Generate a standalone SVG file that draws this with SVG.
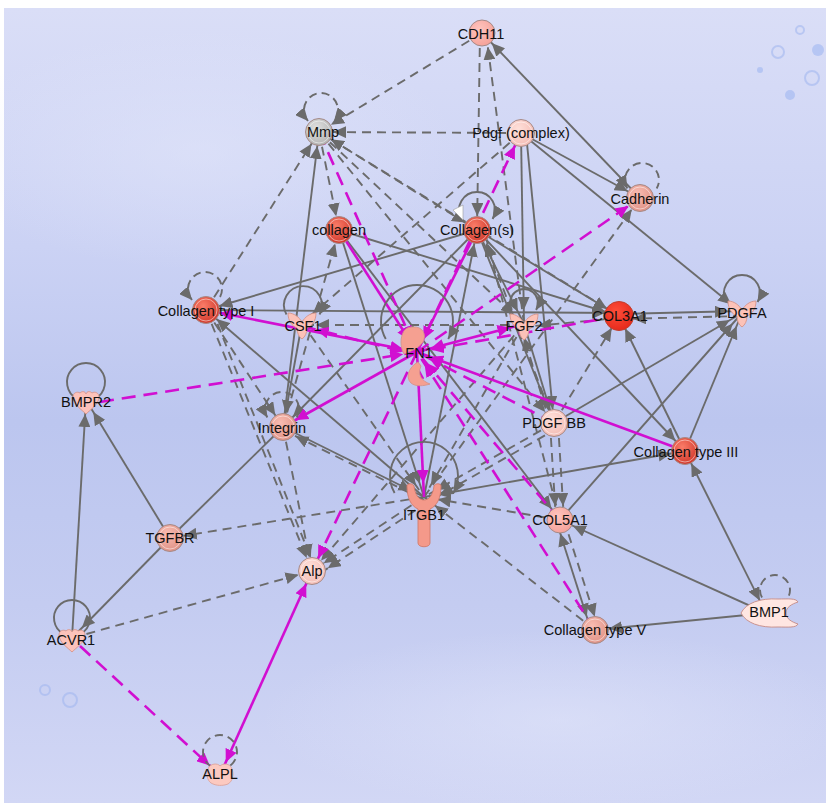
<svg xmlns="http://www.w3.org/2000/svg" width="826" height="803" viewBox="0 0 826 803">
  <defs>
    <linearGradient id="bg" x1="0" y1="0" x2="0" y2="1">
      <stop offset="0" stop-color="#dadef7"/>
      <stop offset="0.3" stop-color="#cbd2f4"/>
      <stop offset="0.52" stop-color="#bcc6ef"/>
      <stop offset="0.75" stop-color="#c4ccf1"/>
      <stop offset="1" stop-color="#d2d7f5"/>
    </linearGradient>
    <radialGradient id="haze" cx="0.5" cy="0.5" r="0.5">
      <stop offset="0" stop-color="#e2e6fa" stop-opacity="0.55"/>
      <stop offset="1" stop-color="#e2e6fa" stop-opacity="0"/>
    </radialGradient>
    <radialGradient id="gRed" cx="0.4" cy="0.35" r="0.7">
      <stop offset="0" stop-color="#fa7c68"/>
      <stop offset="1" stop-color="#cf3529"/>
    </radialGradient>
    <radialGradient id="gRed2" cx="0.4" cy="0.35" r="0.7">
      <stop offset="0" stop-color="#ff4e3a"/>
      <stop offset="1" stop-color="#e4281a"/>
    </radialGradient>
    <radialGradient id="gPink" cx="0.4" cy="0.35" r="0.7">
      <stop offset="0" stop-color="#ffc4be"/>
      <stop offset="1" stop-color="#f4a098"/>
    </radialGradient>
    <radialGradient id="gLight" cx="0.4" cy="0.35" r="0.7">
      <stop offset="0" stop-color="#ffe0da"/>
      <stop offset="1" stop-color="#f3bab2"/>
    </radialGradient>
    <radialGradient id="gSalmon" cx="0.4" cy="0.35" r="0.7">
      <stop offset="0" stop-color="#f9bcb2"/>
      <stop offset="1" stop-color="#de9084"/>
    </radialGradient>
    <radialGradient id="gGrey" cx="0.4" cy="0.35" r="0.7">
      <stop offset="0" stop-color="#e0e0e0"/>
      <stop offset="1" stop-color="#b0b0b0"/>
    </radialGradient>
    <!-- arrowheads: tip sits 14px short of the path end so it meets the node rim -->
    <marker id="ag" viewBox="0 0 27 12" refX="27" refY="6" markerWidth="27" markerHeight="12" markerUnits="userSpaceOnUse" orient="auto-start-reverse">
      <path d="M0,0 L13,6 L0,12 Z" fill="#6b6b6b"/>
    </marker>
    <marker id="am" viewBox="0 0 27 12" refX="27" refY="6" markerWidth="27" markerHeight="12" markerUnits="userSpaceOnUse" orient="auto-start-reverse">
      <path d="M0,0 L13,6 L0,12 Z" fill="#d10fd1"/>
    </marker>
    <marker id="al" viewBox="0 0 13 12" refX="13" refY="6" markerWidth="13" markerHeight="12" markerUnits="userSpaceOnUse" orient="auto-start-reverse">
      <path d="M0,0 L13,6 L0,12 Z" fill="#6b6b6b"/>
    </marker>
    <path id="cyto" d="M-14,-12 C-8,-12 -3,-8 0,-3 C3,-8 8,-12 14,-12 C14,-4 10,1 5,3 C5,8 3,12 0,14 C-3,12 -5,8 -5,3 C-10,1 -14,-4 -14,-12 Z"/>
    <path id="kinase" d="M0,12 C-4,8 -13,2 -13,-5 C-13,-9 -9,-11 -6,-9 C-4,-11 -1,-11 0,-8 C1,-11 4,-11 6,-9 C9,-11 13,-9 13,-5 C13,2 4,8 0,12 Z"/>
  </defs>
  <style>
    .g{fill:none;stroke:#6b6b6b;stroke-width:1.9;marker-end:url(#ag)}
    .g.d{stroke-dasharray:9 6}
    .g.b{marker-start:url(#ag)}
    .g.n{marker-end:none}
    .m{fill:none;stroke:#d10fd1;stroke-width:2.6;marker-end:url(#am)}
    .m.d{stroke-dasharray:14 8}
    .m.b{marker-start:url(#am)}
    .loop{fill:none;stroke:#6b6b6b;stroke-width:1.9}
    .loop.d{stroke-dasharray:8 5}
    .loop.a{marker-end:url(#al)}
    .loop.r{marker-start:url(#al)}
    .ring{stroke:#a48a88;stroke-width:1}
    .inner{fill:none;stroke:#ffffff;stroke-opacity:0.5;stroke-width:1}
    .shape{stroke:#d6948a;stroke-width:0.9}
    text{font-family:"Liberation Sans",Arial,sans-serif;font-size:14.5px;fill:#111111;text-anchor:middle}
  </style>

  <!-- backdrop -->
  <rect width="826" height="803" fill="#ffffff"/>
  <rect x="4" y="8" width="822" height="795" fill="url(#bg)"/>
  <ellipse cx="200" cy="150" rx="260" ry="120" fill="url(#haze)"/>
  <ellipse cx="560" cy="720" rx="300" ry="90" fill="url(#haze)"/>
  <g fill="none" stroke="#9fb4ee" stroke-opacity="0.55" stroke-width="2">
    <circle cx="778" cy="52" r="6"/>
    <circle cx="800" cy="30" r="4"/>
    <circle cx="812" cy="78" r="7"/>
    <circle cx="70" cy="700" r="7"/>
    <circle cx="45" cy="690" r="5"/>
  </g>
  <g fill="#8eaaf0" fill-opacity="0.45">
    <circle cx="790" cy="95" r="5"/>
    <circle cx="818" cy="50" r="6"/>
    <circle cx="760" cy="70" r="3"/>
  </g>

  <!-- connectors -->
  <g id="connectors">
    <!-- grey solid -->
    <path class="g" d="M640,198 L482,33"/>
    <path class="g" d="M521,133 L640,198"/>
    <path class="g" d="M521,133 L742,313"/>
    <path class="g" d="M521,133 L524,324"/>
    <path class="g" d="M526,133 L554,423"/>
    <path class="g" d="M283,427 L319,132"/>
    <path class="g" d="M477,230 L206,310"/>
    <path class="g" d="M339,230 L619,316"/>
    <path class="g" d="M339,230 L560,520"/>
    <path class="g" d="M339,230 L424,497"/>
    <path class="g" d="M477,230 L283,427"/>
    <path class="g" d="M477,230 L619,316"/>
    <path class="g" d="M477,230 L524,324"/>
    <path class="g" d="M477,230 L554,423"/>
    <path class="g" d="M424,497 L477,230"/>
    <path class="g" d="M477,230 L685,451"/>
    <path class="g" d="M206,310 L619,313"/>
    <path class="g" d="M424,497 L206,310"/>
    <path class="g" d="M302,323 L283,427"/>
    <path class="g" d="M619,314 L742,311"/>
    <path class="g" d="M554,423 L742,313"/>
    <path class="g" d="M560,520 L742,313"/>
    <path class="g" d="M685,451 L742,313"/>
    <path class="g" d="M685,451 L619,316"/>
    <path class="g" d="M524,324 L554,423"/>
    <path class="g b" d="M424,497 L685,451"/>
    <path class="g b" d="M766,613 L685,451"/>
    <path class="g" d="M766,613 L560,520"/>
    <path class="g" d="M766,613 L595,630"/>
    <path class="g b" d="M556,520 L591,630"/>
    <path class="g" d="M283,427 L424,497"/>
    <path class="g n" d="M283,427 L170,538"/>
    <path class="g" d="M170,538 L86,400"/>
    <path class="g" d="M72,638 L86,400"/>
    <path class="g" d="M170,538 L72,638"/>
    <!-- grey dashed -->
    <path class="g d" d="M482,33 L319,132"/>
    <path class="g d" d="M480,33 L477,230"/>
    <path class="g d" d="M524,324 L486,33"/>
    <path class="g d" d="M521,133 L319,132"/>
    <path class="g d" d="M521,133 L302,323"/>
    <path class="g d" d="M319,132 L339,230"/>
    <path class="g d" d="M319,132 L477,230"/>
    <path class="g d" d="M619,316 L319,132"/>
    <path class="g d" d="M206,310 L319,132"/>
    <path class="g d" d="M319,132 L554,423"/>
    <path class="g d" d="M319,132 L524,324"/>
    <path class="g d" d="M283,427 L339,230"/>
    <path class="g d" d="M554,423 L481,230"/>
    <path class="g d" d="M560,520 L484,230"/>
    <path class="g d" d="M206,310 L283,427"/>
    <path class="g d" d="M206,310 L312,571"/>
    <path class="g d" d="M212,310 L316,571"/>
    <path class="g d" d="M524,325 L302,325"/>
    <path class="g d" d="M302,323 L424,497"/>
    <path class="g d" d="M619,318 L524,327"/>
    <path class="g d" d="M742,316 L619,319"/>
    <path class="g d" d="M554,423 L619,316"/>
    <path class="g d" d="M550,423 L520,324"/>
    <path class="g d" d="M524,324 L424,497"/>
    <path class="g d" d="M524,324 L312,571"/>
    <path class="g d" d="M550,423 L556,520"/>
    <path class="g d" d="M558,423 L564,520"/>
    <path class="g d" d="M554,423 L424,497"/>
    <path class="g d" d="M558,428 L428,502"/>
    <path class="g d" d="M424,497 L170,538"/>
    <path class="g d" d="M424,497 L312,571"/>
    <path class="g d" d="M428,502 L316,576"/>
    <path class="g d" d="M424,500 L283,430"/>
    <path class="g d" d="M595,630 L424,497"/>
    <path class="g d" d="M560,520 L424,497"/>
    <path class="g d" d="M424,497 L640,198"/>
    <path class="g d" d="M564,520 L599,630"/>
    <path class="g d" d="M283,427 L312,571"/>
    <path class="g d" d="M72,638 L312,571"/>
    <!-- magenta solid -->
    <path class="m" d="M339,230 L417,352"/>
    <path class="m" d="M477,230 L417,352"/>
    <path class="m b" d="M206,310 L417,352"/>
    <path class="m" d="M417,352 L283,427"/>
    <path class="m b" d="M524,324 L417,352"/>
    <path class="m" d="M685,451 L417,352"/>
    <path class="m b" d="M417,352 L424,497"/>
    <path class="m b" d="M312,571 L220,775"/>
    <!-- magenta dashed -->
    <path class="m d" d="M319,132 L417,352"/>
    <path class="m d" d="M417,352 L521,133"/>
    <path class="m d" d="M417,352 L640,198"/>
    <path class="m d b" d="M302,326 L417,355"/>
    <path class="m d" d="M100,402 L417,352"/>
    <path class="m d" d="M619,316 L417,352"/>
    <path class="m d" d="M554,423 L417,352"/>
    <path class="m d" d="M417,352 L312,571"/>
    <path class="m d" d="M560,520 L417,352"/>
    <path class="m d" d="M595,630 L417,352"/>
    <path class="m d" d="M80,646 L220,775"/>
    <!-- self loops -->
    <path class="loop d a r" d="M308,121 A17,17 0 1,1 334,121"/>
    <path class="loop a" d="M461.4,219 A18,18 0 1,1 492.6,219"/>
    <path class="loop d r" d="M192,300 A17,17 0 1,1 218,300"/>
    <path class="loop a" d="M286.5,314.5 A19,19 0 1,1 319.5,314.5"/>
    <path class="loop a" d="M385.8,339 A36,36 0 1,1 448.2,339"/>
    <path class="loop a" d="M394.6,493 A34,34 0 1,1 453.4,493"/>
    <path class="loop a" d="M511.9,310 A14,14 0 1,1 536.1,310"/>
    <path class="loop a" d="M726.4,302 A18,18 0 1,1 757.6,302"/>
    <path class="loop d r" d="M627.3,188.5 A17,17 0 1,1 656.7,188.5"/>
    <path class="loop d r" d="M267.3,417.5 A17,17 0 1,1 296.7,417.5"/>
    <path class="loop" d="M76.5,398.5 A19,19 0 1,1 95.5,398.5"/>
    <path class="loop" d="M63,633.6 A18,18 0 1,1 81,633.6"/>
    <path class="loop d" d="M762,597.5 A15,15 0 1,1 788,597.5"/>
    <path class="loop d" d="M211.5,766.7 A17,17 0 1,1 228.5,766.7"/>
    <polygon points="453,210 463,205 463,220" fill="#ffffff" stroke="#9a9a9a" stroke-width="0.6"/>
  </g>

  <!-- nodes -->
  <g id="CDH11">
    <circle cx="482" cy="33" r="13" fill="url(#gPink)" class="ring"/>
    <text x="481" y="39">CDH11</text>
  </g>
  <g id="Mmp">
    <circle cx="319" cy="132" r="13.5" fill="url(#gGrey)" class="ring"/>
    <circle cx="319" cy="132" r="11" class="inner"/>
    <text x="323" y="137">Mmp</text>
  </g>
  <g id="Pdgf-complex">
    <circle cx="521" cy="133" r="13.5" fill="url(#gLight)" class="ring"/>
    <circle cx="521" cy="133" r="11" class="inner"/>
    <text x="521" y="138">Pdgf (complex)</text>
  </g>
  <g id="Cadherin">
    <circle cx="640" cy="198" r="13.5" fill="url(#gSalmon)" class="ring"/>
    <circle cx="640" cy="198" r="11" class="inner"/>
    <text x="640" y="204">Cadherin</text>
  </g>
  <g id="collagen">
    <circle cx="339" cy="230" r="13.5" fill="url(#gRed)" class="ring"/>
    <circle cx="339" cy="230" r="11" class="inner"/>
    <text x="339" y="235">collagen</text>
  </g>
  <g id="Collagen-s">
    <circle cx="477" cy="230" r="13.5" fill="url(#gRed)" class="ring"/>
    <circle cx="477" cy="230" r="11" class="inner"/>
    <text x="477" y="235">Collagen(s)</text>
  </g>
  <g id="Collagen-type-I">
    <circle cx="206" cy="310" r="13.5" fill="url(#gRed)" class="ring"/>
    <circle cx="206" cy="310" r="11" class="inner"/>
    <text x="206" y="316">Collagen type I</text>
  </g>
  <g id="CSF1">
    <use href="#cyto" x="302" y="325" fill="#fcc2b8" class="shape"/>
    <text x="303" y="331">CSF1</text>
  </g>
  <g id="FN1">
    <path d="M413,327 C422,326 427,334 423,342 C419,348 411,351 404,354 C400,347 400,337 404,331 C406,328 409,327 413,327 Z" fill="#f5a091" class="shape"/>
    <path d="M418,362 C409,367 405,377 411,383 C416,387 424,386 430,384 C422,381 417,375 421,366 Z" fill="#f5a091" class="shape"/>
    <text x="419" y="358">FN1</text>
  </g>
  <g id="FGF2">
    <use href="#cyto" x="524" y="326" fill="#fcc2b8" class="shape"/>
    <text x="524" y="331">FGF2</text>
  </g>
  <g id="COL3A1">
    <circle cx="619" cy="316" r="14.5" fill="url(#gRed2)" stroke="#c04030" stroke-width="1"/>
    <text x="620" y="321">COL3A1</text>
  </g>
  <g id="PDGFA">
    <use href="#cyto" x="742" y="313" fill="#fcc2b8" class="shape"/>
    <text x="742" y="318">PDGFA</text>
  </g>
  <g id="BMPR2">
    <use href="#kinase" x="86" y="402" fill="#fcc2ba" class="shape"/>
    <text x="86" y="407">BMPR2</text>
  </g>
  <g id="Integrin">
    <circle cx="283" cy="427" r="13.5" fill="url(#gSalmon)" class="ring"/>
    <circle cx="283" cy="427" r="11" class="inner"/>
    <text x="282" y="433">Integrin</text>
  </g>
  <g id="PDGF-BB">
    <circle cx="554" cy="423" r="13.5" fill="url(#gLight)" class="ring"/>
    <circle cx="554" cy="423" r="11" class="inner"/>
    <text x="554" y="428">PDGF BB</text>
  </g>
  <g id="Collagen-type-III">
    <circle cx="685" cy="451" r="13.5" fill="url(#gRed)" class="ring"/>
    <circle cx="685" cy="451" r="11" class="inner"/>
    <text x="686" y="457">Collagen type III</text>
  </g>
  <g id="ITGB1">
    <path d="M407,486 C407,483 413,483 414,486 C415,495 419,500 424,500 C429,500 433,495 434,486 C435,483 441,483 441,486 C441,498 437,506 430,509 L430,543 C430,548 418,548 418,543 L418,509 C411,506 407,498 407,486 Z" fill="#f4998a" stroke="#d07a6c" stroke-width="0.9"/>
    <text x="424" y="520">ITGB1</text>
  </g>
  <g id="COL5A1">
    <circle cx="560" cy="520" r="13" fill="url(#gPink)" class="ring"/>
    <text x="560" y="525">COL5A1</text>
  </g>
  <g id="TGFBR">
    <circle cx="170" cy="538" r="13.5" fill="url(#gSalmon)" class="ring"/>
    <circle cx="170" cy="538" r="11" class="inner"/>
    <text x="170" y="543">TGFBR</text>
  </g>
  <g id="Alp">
    <circle cx="312" cy="571" r="13.5" fill="url(#gLight)" class="ring"/>
    <circle cx="312" cy="571" r="11" class="inner"/>
    <text x="312" y="576">Alp</text>
  </g>
  <g id="Collagen-type-V">
    <circle cx="595" cy="630" r="13.5" fill="url(#gSalmon)" class="ring"/>
    <circle cx="595" cy="630" r="11" class="inner"/>
    <text x="595" y="635">Collagen type V</text>
  </g>
  <g id="BMP1">
    <path transform="translate(768,613)" d="M-27,0 C-22,-10 -8,-15 10,-14 C20,-14 28,-15 30,-11 C24,-9 18,-6 18,0 C18,6 24,9 30,11 C28,15 20,14 10,14 C-8,15 -22,10 -27,0 Z" fill="#ffe6e2" stroke="#c48a86" stroke-width="0.9"/>
    <text x="769" y="617">BMP1</text>
  </g>
  <g id="ACVR1">
    <use href="#kinase" x="72" y="640" fill="#fcc2ba" class="shape"/>
    <text x="71" y="645">ACVR1</text>
  </g>
  <g id="ALPL">
    <path transform="translate(220,775)" d="M-12,-6 C-10,-12 -2,-12 0,-9 C3,-12 10,-12 12,-6 C14,-1 13,6 8,9 C3,11 -4,11 -9,8 C-13,5 -14,-1 -12,-6 Z" fill="#fcc9c0" stroke="#dca49c" stroke-width="0.9"/>
    <text x="220" y="779">ALPL</text>
  </g>
</svg>
